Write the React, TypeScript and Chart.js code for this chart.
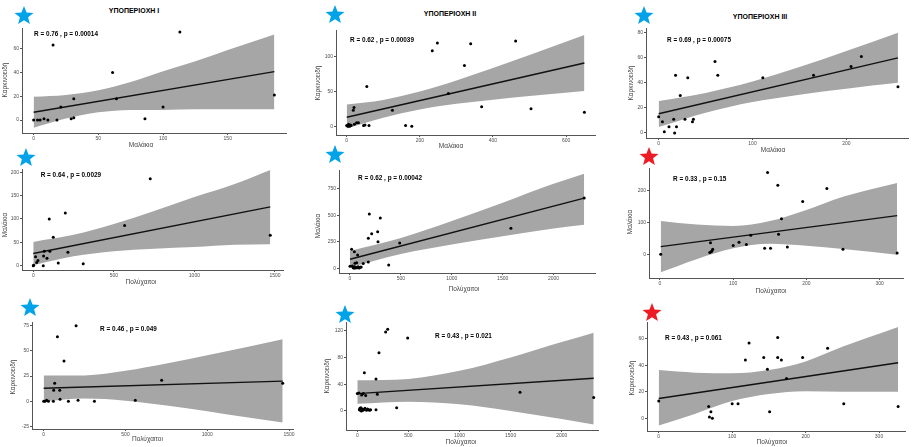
import React, { useEffect, useRef } from "react";
import { Chart, registerables } from "chart.js";
Chart.register(...registerables);

const FONT = '"Liberation Sans", Arial, sans-serif';
const BAND = "#a6a6a6";
const BLUE = "#00a2e8";
const RED = "#ed1c24";
const AXIS = "#555555";
const TICK_TXT = "#4d4d4d";

// ---------- Text ----------
const sectionTitles = ["ΥΠΟΠΕΡΙΟΧΗ I", "ΥΠΟΠΕΡΙΟΧΗ II", "ΥΠΟΠΕΡΙΟΧΗ III"];
const labelMollusca = "Μαλάκια";
const labelCarcin = "Καρκινοειδή";
const labelPoly = "Πολύχαιτοι";
const statTexts = [
  "R = 0.76 , p = 0.00014",
  "R = 0.62 , p = 0.00039",
  "R = 0.69 , p = 0.00075",
  "R = 0.64 , p = 0.0029",
  "R = 0.62 , p = 0.00042",
  "R = 0.33 , p = 0.15",
  "R = 0.46 , p = 0.049",
  "R = 0.43 , p = 0.021",
  "R = 0.43 , p = 0.061",
];
const significant = [true, true, true, true, true, false, true, true, false];

// ---------- Panel 1: Μαλάκια vs Καρκινοειδή (I) ----------
const p1X = [0, 3, 5, 8, 11, 15, 18, 21, 29, 31, 31, 61, 64, 86, 100, 113, 186];
const p1Y = [0, 0, 0, 1, 0, 63, 0, 11, 1, 18, 2, 40, 18, 1, 11, 74, 21];
const p1LineX = [0, 186];
const p1LineY = [6.5, 40.7];
const p1BandX = [0, 25, 50, 75, 100, 125, 150, 186];
const p1BandUp = [19.5, 21, 25, 32, 41, 49.5, 59, 72];
const p1BandLo = [-6.5, 1.2, 6.5, 8.5, 8.5, 9, 9, 9];
const p1XTicks = [0, 50, 100, 150];
const p1YTicks = [0, 20, 40, 60];

// ---------- Panel 2: Μαλάκια vs Καρκινοειδή (II) ----------
const p2X = [0, 3, 5, 8, 10, 12, 18, 20, 21, 27, 32, 46, 50, 55, 61, 125, 161, 178, 234, 248, 278, 322, 339, 369, 462, 504, 650];
const p2Y = [1, 0, 3, 0, 2, 1, 23, 27, 3, 5, 5, 1, 2, 57, 1, 23, 1, 0, 108, 119, 47, 87, 118, 28, 122, 25, 20];
const p2LineX = [0, 650];
const p2LineY = [13, 90.5];
const p2BandX = [0, 100, 200, 300, 400, 500, 650];
const p2BandUp = [31, 37.7, 49.6, 65.5, 83.3, 101.9, 130.5];
const p2BandLo = [-3, 12.1, 24, 32.1, 38.1, 43.3, 50.5];
const p2XTicks = [0, 200, 400, 600];
const p2YTicks = [0, 50, 100];

// ---------- Panel 3: Μαλάκια vs Καρκινοειδή (III) ----------
const p3X = [0, 4, 6, 11, 16, 17, 18, 19, 23, 28, 31, 36, 37, 60, 63, 111, 165, 205, 216, 255];
const p3Y = [13, 9, 1, 5, 11, 0, 46, 5, 30, 11, 44, 9, 11, 57, 46, 44, 46, 53, 61, 37];
const p3LineX = [0, 255];
const p3LineY = [15.4, 60];
const p3BandX = [0, 50, 100, 150, 200, 255];
const p3BandUp = [25.5, 32, 41.1, 52.6, 65.4, 80];
const p3BandLo = [4.8, 16.2, 24.7, 30.6, 35.4, 40];
const p3XTicks = [0, 100, 200];
const p3YTicks = [0, 20, 40, 60, 80];

// ---------- Panel 4: Πολύχαιτοι vs Μαλάκια (I) ----------
const p4X = [0, 2, 14, 21, 29, 62, 64, 68, 85, 99, 103, 124, 155, 199, 215, 310, 567, 726, 1471];
const p4Y = [0, 1, 19, 7, 11, 0, 21, 31, 16, 100, 31, 61, 6, 113, 29, 4, 86, 186, 65];
const p4LineX = [0, 1471];
const p4LineY = [26, 126];
const p4BandX = [0, 250, 500, 750, 1000, 1250, 1471];
const p4BandUp = [51, 66, 89, 117, 147, 175, 205];
const p4BandLo = [1, 20, 31, 36.5, 40, 45, 46];
const p4XTicks = [0, 500, 1000, 1500];
const p4YTicks = [0, 50, 100, 150, 200];

// ---------- Panel 5: Πολύχαιτοι vs Μαλάκια (II) ----------
const p5X = [0, 16, 23, 30, 33, 38, 43, 45, 49, 52, 58, 65, 70, 75, 80, 90, 100, 110, 130, 180, 180, 190, 213, 272, 275, 298, 380, 488, 1581, 2301];
const p5Y = [19, 179, 22, 10, 6, 2, 157, 14, 47, 3, 8, 53, 5, 125, 15, 4, 10, 12, 45, 60, 282, 511, 326, 345, 251, 474, 31, 238, 376, 662];
const p5LineX = [0, 2301];
const p5LineY = [85, 660];
const p5BandX = [0, 500, 1000, 1500, 2000, 2301];
const p5BandUp = [163, 285, 445, 618, 796, 890];
const p5BandLo = [9, 135, 225, 302, 374, 410];
const p5XTicks = [0, 500, 1000, 1500, 2000];
const p5YTicks = [0, 250, 500, 750];

// ---------- Panel 6: Πολύχαιτοι vs Μαλάκια (III) ----------
const p6X = [1, 69, 68, 70, 71, 72, 100, 108, 118, 124, 143, 147, 151, 161, 162, 166, 174, 195, 228, 250, 324];
const p6Y = [0, 36, 6, 8, 11, 16, 28, 38, 31, 60, 19, 256, 19, 216, 63, 111, 23, 165, 206, 16, 4];
const p6LineX = [1, 324];
const p6LineY = [24, 121];
const p6BandX = [1, 50, 100, 150, 200, 250, 324];
const p6BandUp = [104, 93, 89, 104, 139, 180, 223];
const p6BandLo = [-56, -15, 19, 33, 27, 17, -1];
const p6XTicks = [0, 100, 200, 300];
const p6YTicks = [0, 100, 200];

// ---------- Panel 7: Πολύχαιτοι vs Καρκινοειδή (I) ----------
const p7X = [0, 8, 18, 29, 59, 61, 67, 84, 98, 100, 124, 151, 198, 210, 310, 560, 721, 1461];
const p7Y = [0, 0, 1, 0, 0, 11, 18, 64, 11, 2, 40, 0, 75, 1, 0, 1, 21, 18];
const p7LineX = [0, 1461];
const p7LineY = [13, 20];
const p7BandX = [0, 250, 500, 750, 1000, 1250, 1461];
const p7BandUp = [25.5, 25.7, 30.2, 37.4, 45.6, 54.2, 61.5];
const p7BandLo = [0, 2.7, 0.6, -4.2, -10, -16.2, -21];
const p7XTicks = [0, 500, 1000, 1500];
const p7YTicks = [-25, 0, 25, 50, 75];

// ---------- Panel 8: Πολύχαιτοι vs Καρκινοειδή (II) ----------
const p8X = [0, 16, 20, 26, 30, 35, 40, 42, 48, 55, 59, 62, 69, 75, 82, 90, 100, 110, 120, 130, 183, 183, 196, 212, 277, 297, 385, 493, 1592, 2313];
const p8Y = [26, 27, 2, 4, 1, 5, 0, 24, 3, 1, 26, 2, 57, 4, 23, 1, 3, 2, 1, 2, 48, 2, 25, 87, 118, 122, 5, 109, 28, 20];
const p8LineX = [0, 2313];
const p8LineY = [26, 49];
const p8BandX = [0, 500, 1000, 1500, 2000, 2313];
const p8BandUp = [46, 48, 60, 80, 103, 117];
const p8BandLo = [11, 14, 10, 0, -12, -20];
const p8XTicks = [0, 500, 1000, 1500, 2000];
const p8YTicks = [0, 40, 80, 120];

// ---------- Panel 9: Πολύχαιτοι vs Καρκινοειδή (III) ----------
const p9X = [0, 68, 69, 71, 73, 100, 108, 118, 123, 143, 148, 151, 162, 162, 167, 174, 196, 230, 252, 326];
const p9Y = [13, 9, 1, 5, 0, 11, 11, 44, 57, 46, 37, 5, 61, 46, 44, 30, 46, 53, 11, 9];
const p9LineX = [0, 326];
const p9LineY = [15, 42];
const p9BandX = [0, 50, 100, 150, 200, 250, 326];
const p9BandUp = [36.5, 34.5, 34, 36.5, 43, 54, 69];
const p9BandLo = [-5.5, 3.5, 13, 18.3, 20.5, 20, 20];
const p9XTicks = [0, 100, 200, 300];
const p9YTicks = [0, 20, 40, 60];

type Panel = {
  x: number[]; y: number[];
  lx: number[]; ly: number[];
  bx: number[]; bu: number[]; bl: number[];
  xt: number[]; yt: number[];
  xr: [number, number]; yr: [number, number];
  box: { L: number; R: number; T: number; B: number };
  xTitle: string; yTitle: string;
  xTitlePos: [number, number]; yTitlePos: [number, number];
  statPos: [number, number];
  starPos: [number, number];
};

const panels: Panel[] = [
  { x: p1X, y: p1Y, lx: p1LineX, ly: p1LineY, bx: p1BandX, bu: p1BandUp, bl: p1BandLo, xt: p1XTicks, yt: p1YTicks,
    xr: [-9, 195], yr: [-10.9, 77.4], box: { L: 22, R: 286, T: 28, B: 133 },
    xTitle: labelMollusca, yTitle: labelCarcin, xTitlePos: [141, 144.5], yTitlePos: [5, 80], statPos: [34, 33.3], starPos: [24, 16] },
  { x: p2X, y: p2Y, lx: p2LineX, ly: p2LineY, bx: p2BandX, bu: p2BandUp, bl: p2BandLo, xt: p2XTicks, yt: p2YTicks,
    xr: [-29.3, 679], yr: [-12.4, 137.6], box: { L: 336, R: 595, T: 30, B: 135 },
    xTitle: labelMollusca, yTitle: labelCarcin, xTitlePos: [451, 146], yTitlePos: [318, 83], statPos: [350, 40], starPos: [335, 15] },
  { x: p3X, y: p3Y, lx: p3LineX, ly: p3LineY, bx: p3BandX, bu: p3BandUp, bl: p3BandLo, xt: p3XTicks, yt: p3YTicks,
    xr: [-13.5, 265.7], yr: [-4, 83.8], box: { L: 646, R: 908, T: 28, B: 138 },
    xTitle: labelMollusca, yTitle: labelCarcin, xTitlePos: [773, 150], yTitlePos: [631, 83], statPos: [667, 40], starPos: [644, 16] },
  { x: p4X, y: p4Y, lx: p4LineX, ly: p4LineY, bx: p4BandX, bu: p4BandUp, bl: p4BandLo, xt: p4XTicks, yt: p4YTicks,
    xr: [-70, 1550], yr: [-9.2, 207], box: { L: 22, R: 283, T: 169, B: 270 },
    xTitle: labelPoly, yTitle: labelMollusca, xTitlePos: [141, 281.7], yTitlePos: [5, 225], statPos: [40.7, 175], starPos: [26, 158] },
  { x: p5X, y: p5Y, lx: p5LineX, ly: p5LineY, bx: p5BandX, bu: p5BandUp, bl: p5BandLo, xt: p5XTicks, yt: p5YTicks,
    xr: [-108, 2407], yr: [-44, 925], box: { L: 339, R: 595, T: 170, B: 273 },
    xTitle: labelPoly, yTitle: labelMollusca, xTitlePos: [464, 289], yTitlePos: [318, 226], statPos: [358, 177.3], starPos: [335, 155] },
  { x: p6X, y: p6Y, lx: p6LineX, ly: p6LineY, bx: p6BandX, bu: p6BandUp, bl: p6BandLo, xt: p6XTicks, yt: p6YTicks,
    xr: [-15, 332], yr: [-74, 270], box: { L: 649, R: 903, T: 168, B: 278 },
    xTitle: labelPoly, yTitle: labelMollusca, xTitlePos: [771, 290.7], yTitlePos: [630, 222], statPos: [673, 179], starPos: [649, 157] },
  { x: p7X, y: p7Y, lx: p7LineX, ly: p7LineY, bx: p7BandX, bu: p7BandUp, bl: p7BandLo, xt: p7XTicks, yt: p7YTicks,
    xr: [-71.5, 1524], yr: [-27.5, 78.7], box: { L: 32, R: 293, T: 322, B: 429 },
    xTitle: labelPoly, yTitle: labelCarcin, xTitlePos: [147.5, 439], yTitlePos: [13, 377], statPos: [100, 329], starPos: [30, 308] },
  { x: p8X, y: p8Y, lx: p8LineX, ly: p8LineY, bx: p8BandX, bu: p8BandUp, bl: p8BandLo, xt: p8XTicks, yt: p8YTicks,
    xr: [-110.6, 2355], yr: [-28.4, 133], box: { L: 346, R: 598, T: 322, B: 430 },
    xTitle: labelPoly, yTitle: labelCarcin, xTitlePos: [461, 441.7], yTitlePos: [327, 376], statPos: [435, 335.7], starPos: [345, 315] },
  { x: p9X, y: p9Y, lx: p9LineX, ly: p9LineY, bx: p9BandX, bu: p9BandUp, bl: p9BandLo, xt: p9XTicks, yt: p9YTicks,
    xr: [-16, 335.4], yr: [-9.6, 72.8], box: { L: 647, R: 905, T: 322, B: 431 },
    xTitle: labelPoly, yTitle: labelCarcin, xTitlePos: [772, 442.3], yTitlePos: [632, 378], statPos: [665, 337.3], starPos: [652, 313] },
];

const sectionTitlePos: [number, number][] = [[134, 9.5], [450, 13.3], [760, 15.7]];

const zip = (xs: number[], ys: number[]) => xs.map((x, i) => ({ x, y: ys[i] }));

const PAD_L = 20, PAD_B = 12, PAD_T = 4, PAD_R = 4;

function PanelChart({ p }: { p: Panel }) {
  const ref = useRef<HTMLCanvasElement>(null);
  useEffect(() => {
    const tickFont = { size: 5, family: FONT };
    const chart = new Chart(ref.current as HTMLCanvasElement, {
      type: "line",
      data: {
        datasets: [
          {
            data: zip(p.x, p.y), showLine: false, pointRadius: 1.5, pointBorderWidth: 0,
            pointBackgroundColor: "#000", borderColor: "#000",
          } as any,
          {
            data: zip(p.lx, p.ly), borderColor: "#111", borderWidth: 1.4, pointRadius: 0, fill: false,
          },
          {
            data: zip(p.bx, p.bu), borderColor: "rgba(0,0,0,0)", borderWidth: 0, pointRadius: 0,
            fill: "+1", backgroundColor: BAND, cubicInterpolationMode: "monotone",
          },
          {
            data: zip(p.bx, p.bl), borderColor: "rgba(0,0,0,0)", borderWidth: 0, pointRadius: 0,
            fill: false, cubicInterpolationMode: "monotone",
          },
        ],
      },
      options: {
        animation: false,
        responsive: false,
        devicePixelRatio: 1,
        events: [],
        layout: { padding: { top: PAD_T, right: PAD_R, left: 0, bottom: 0 } },
        plugins: { legend: { display: false }, tooltip: { enabled: false } },
        scales: {
          x: {
            type: "linear", min: p.xr[0], max: p.xr[1],
            afterBuildTicks: (s: any) => { s.ticks = p.xt.map((v) => ({ value: v })); },
            afterFit: (s: any) => { s.height = PAD_B; s.paddingLeft = 0; s.paddingRight = 0; },
            grid: { drawOnChartArea: false, drawTicks: true, tickLength: 2, color: AXIS, lineWidth: 1 },
            border: { display: true, color: AXIS, width: 1 },
            ticks: { font: tickFont, color: TICK_TXT, padding: 1, maxRotation: 0, autoSkip: false, callback: (v: any) => String(v) },
          },
          y: {
            type: "linear", min: p.yr[0], max: p.yr[1],
            afterBuildTicks: (s: any) => { s.ticks = p.yt.map((v) => ({ value: v })); },
            afterFit: (s: any) => { s.width = PAD_L; s.paddingTop = 0; s.paddingBottom = 0; },
            grid: { drawOnChartArea: false, drawTicks: true, tickLength: 2, color: AXIS, lineWidth: 1 },
            border: { display: true, color: AXIS, width: 1 },
            ticks: { font: tickFont, color: TICK_TXT, padding: 1, autoSkip: false, callback: (v: any) => String(v) },
          },
        },
      } as any,
    });
    return () => chart.destroy();
  }, [p]);
  const { L, R, T, B } = p.box;
  const w = R - L + PAD_L + PAD_R;
  const h = B - T + PAD_T + PAD_B;
  return (
    <canvas
      ref={ref}
      width={w}
      height={h}
      style={{ position: "absolute", left: L - PAD_L, top: T - PAD_T, width: w, height: h }}
    />
  );
}

function Star({ cx, cy, color }: { cx: number; cy: number; color: string }) {
  const r = 10, ri = 4.3;
  const pts: string[] = [];
  for (let i = 0; i < 10; i++) {
    const a = -Math.PI / 2 + (i * Math.PI) / 5;
    const rr = i % 2 === 0 ? r : ri;
    pts.push(`${(r + rr * Math.cos(a)).toFixed(2)},${(r + rr * Math.sin(a)).toFixed(2)}`);
  }
  return (
    <svg width={2 * r} height={2 * r} style={{ position: "absolute", left: cx - r, top: cy - r, overflow: "visible" }}>
      <polygon points={pts.join(" ")} fill={color} />
    </svg>
  );
}

const centered = (cx: number, cy: number, extra: React.CSSProperties = {}): React.CSSProperties => ({
  position: "absolute", left: cx, top: cy, transform: "translate(-50%,-50%)", whiteSpace: "nowrap", lineHeight: 1, ...extra,
});

export default function App() {
  return (
    <div style={{ position: "absolute", left: 0, top: 0, width: 915, height: 447, background: "#fff", overflow: "hidden", fontFamily: FONT }}>
      {panels.map((p, i) => (
        <PanelChart key={"c" + i} p={p} />
      ))}
      {sectionTitles.map((t, i) => (
        <div key={"t" + i} style={centered(sectionTitlePos[i][0], sectionTitlePos[i][1], { fontSize: 7, fontWeight: 700, color: "#000" })}>{t}</div>
      ))}
      {panels.map((p, i) => (
        <div key={"x" + i} style={centered(p.xTitlePos[0], p.xTitlePos[1], { fontSize: 6.5, color: "#444" })}>{p.xTitle}</div>
      ))}
      {panels.map((p, i) => (
        <div key={"y" + i} style={centered(p.yTitlePos[0], p.yTitlePos[1], { fontSize: 6.5, color: "#444", transform: "translate(-50%,-50%) rotate(-90deg)" })}>{p.yTitle}</div>
      ))}
      {panels.map((p, i) => (
        <div key={"s" + i} style={{ position: "absolute", left: p.statPos[0], top: p.statPos[1] - 3.6, fontSize: 6.4, fontWeight: 700, color: "#000", whiteSpace: "nowrap", lineHeight: "7px" }}>{statTexts[i]}</div>
      ))}
      {panels.map((p, i) => (
        <Star key={"st" + i} cx={p.starPos[0]} cy={p.starPos[1]} color={significant[i] ? BLUE : RED} />
      ))}
    </div>
  );
}
